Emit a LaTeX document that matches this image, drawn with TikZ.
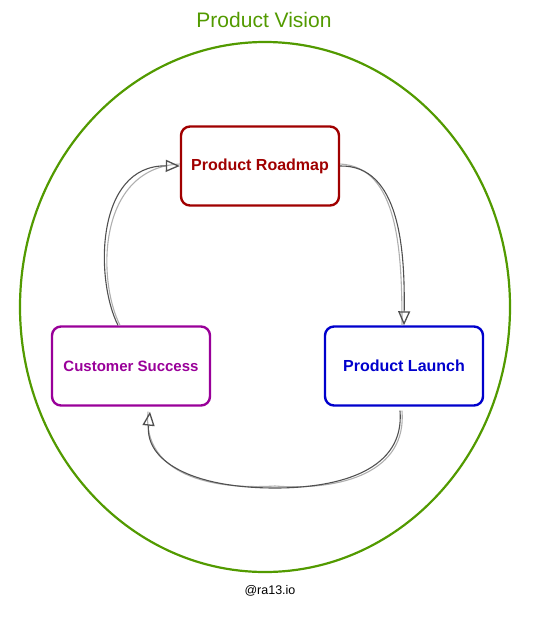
\documentclass[tikz,border=0pt]{standalone}
\usepackage{fontspec}
\setmainfont{Liberation Sans}
\usetikzlibrary{arrows.meta}
\definecolor{visiongreen}{RGB}{82,154,0}
\definecolor{roadmapred}{RGB}{160,0,0}
\definecolor{successpurple}{RGB}{153,0,153}
\definecolor{launchblue}{RGB}{0,0,204}
\definecolor{flowgray}{RGB}{80,80,80}
\definecolor{sketchgray}{RGB}{175,175,175}
\tikzset{
  stepbox/.style={draw, line width=2.4pt, rounded corners=9pt, minimum width=158pt,
    minimum height=79pt, font=\bfseries\fontsize{16}{19}\selectfont},
  flow/.style={draw=flowgray, line width=1.1pt, -{Triangle[open,length=14pt,width=12pt,line width=1.3pt]}},
  sketch/.style={draw=sketchgray, line width=1.1pt}
}

\begin{document}
\begin{tikzpicture}[x=1pt,y=-1pt]
  \useasboundingbox (0,0) rectangle (537,622);
  % vision
  \node (title) at (264,20) {\color{visiongreen}\fontsize{21}{24}\selectfont Product Vision};
  \draw[visiongreen, line width=2.2pt] (265,307) ellipse [x radius=245pt, y radius=265pt];
  % steps
  \node[stepbox, draw=roadmapred, text=roadmapred] (roadmap) at (260,166) {Product Roadmap};
  \node[stepbox, draw=successpurple, text=successpurple, font=\bfseries\fontsize{15}{18}\selectfont] (success) at (131,366) {Customer Success};
  \node[stepbox, draw=launchblue, text=launchblue] (launch) at (404,366) {Product Launch};
  \coordinate (successtop) at ([xshift=-13pt]success.north);
  \coordinate (successbot) at ([xshift=19pt,yshift=-5pt]success.south);
  \coordinate (launchbot) at ([xshift=-4pt,yshift=-4pt]launch.south);
  \coordinate (lowpoint) at (275,488);
  % sketchy doubles
  \draw[sketch] ([xshift=2pt]successtop) .. controls (97,280) and (97,168) .. ([yshift=2pt]roadmap.west);
  \draw[sketch] ([yshift=2pt]roadmap.east) .. controls (398,167) and (402,250) .. ([xshift=-2pt]launch.north);
  \draw[sketch] ([xshift=2pt]launchbot) .. controls (407,472) and (342,491) .. ([yshift=2pt]lowpoint)
    .. controls (188,491) and (143,462) .. ([xshift=-2pt]successbot);
  % connectors
  \draw[flow] (successtop) .. controls (95,280) and (95,165) .. (roadmap.west);
  \draw[flow] (roadmap.east) .. controls (400,165) and (405,250) .. (launch.north);
  \draw[flow] (launchbot) .. controls (405,470) and (340,488) .. (lowpoint)
    .. controls (190,488) and (145,460) .. (successbot);
  \node (credit) at (270,591) {\fontsize{12.5}{15}\selectfont @ra13.io};
\end{tikzpicture}
\end{document}
